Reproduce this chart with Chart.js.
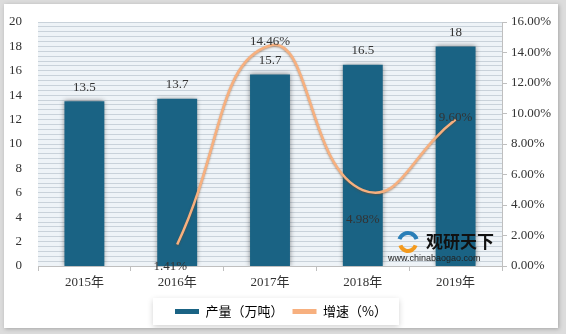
<!DOCTYPE html>
<html>
<head>
<meta charset="utf-8">
<script src="https://cdn.jsdelivr.net/npm/chart.js@4/dist/chart.umd.min.js"></script>
<style>
  body { margin: 0; background: #dcdcdc; width: 566px; height: 334px; overflow: hidden; }
  #wrap { position: absolute; left: 4px; top: 4px; width: 554px; height: 324px; background: #fff; box-shadow: 1px 1px 4px rgba(0,0,0,0.25); }
</style>
</head>
<body>
<div id="wrap"><canvas id="myChart" width="554" height="324"></canvas></div>
<script>
// datos
var anios = ['2015年', '2016年', '2017年', '2018年', '2019年'];
var produccion = [13.5, 13.7, 15.7, 16.5, 18];
var crecimiento = [null, 1.41, 14.46, 4.98, 9.60];
var ticksIzq = [0, 2, 4, 6, 8, 10, 12, 14, 16, 18, 20];
var ticksDer = [0, 2, 4, 6, 8, 10, 12, 14, 16];

var serif = "'Liberation Serif', 'Noto Sans CJK SC', serif";
var cjk = "'Noto Sans CJK SC', sans-serif";

// fondo rayado + caja de la leyenda
var fondo = {
  id: 'fondo',
  beforeDraw: function (chart) {
    var c = chart.ctx, a = chart.chartArea;
    c.save();
    c.fillStyle = '#eef3f7';
    c.fillRect(a.left, a.top, a.right - a.left, a.bottom - a.top);
    var lg = chart.legend;
    if (lg && lg.legendHitBoxes && lg.legendHitBoxes.length) {
      var hb = lg.legendHitBoxes;
      var x0 = hb[0].left - 22, x1 = hb[hb.length - 1].left + hb[hb.length - 1].width + 12;
      var y0 = hb[0].top - 7, y1 = hb[0].top + hb[0].height + 7;
      c.shadowColor = 'rgba(0,0,0,0.18)';
      c.shadowBlur = 6;
      c.shadowOffsetY = 2;
      c.fillStyle = '#fff';
      c.fillRect(x0, y0, x1 - x0, y1 - y0);
    }
    c.restore();
  }
};

// sombras
var sombra = {
  id: 'sombra',
  beforeDatasetDraw: function (chart, args) {
    var c = chart.ctx;
    c.save();
    if (args.index === 0) {
      c.shadowColor = 'rgba(0,0,0,0.45)';
      c.shadowBlur = 5;
    } else {
      c.shadowColor = 'rgba(120,70,30,0.5)';
      c.shadowBlur = 2;
      c.shadowOffsetY = 1;
    }
  },
  afterDatasetDraw: function (chart) {
    chart.ctx.restore();
  }
};

// etiquetas de datos y marca de agua
var desplaz = [null, [-7, 22], [0, -4], [0, 30], [0, -2]];
var etiquetas = {
  id: 'etiquetas',
  afterDatasetsDraw: function (chart) {
    var c = chart.ctx;
    c.save();
    // marca de agua
    var a = chart.chartArea;
    var lx = a.right - 106, ly = a.bottom - 36;
    c.lineWidth = 4;
    c.strokeStyle = '#2a7fb8';
    c.beginPath(); c.arc(lx + 12, ly + 12, 9, Math.PI * 1.1, Math.PI * 1.9); c.stroke();
    c.strokeStyle = '#f39a1e';
    c.beginPath(); c.arc(lx + 12, ly + 13, 8, Math.PI * 0.1, Math.PI * 0.9); c.stroke();
    c.fillStyle = '#111';
    c.font = "bold 17px " + cjk;
    c.textAlign = 'left';
    c.textBaseline = 'middle';
    c.fillText('观研天下', lx + 30, ly + 12);
    c.font = "9px 'Liberation Sans', sans-serif";
    c.fillStyle = '#222';
    c.fillText('www.chinabaogao.com', lx - 8, ly + 29);

    c.font = "13px " + serif;
    c.fillStyle = '#333';
    c.textAlign = 'center';
    var barras = chart.getDatasetMeta(0).data;
    barras.forEach(function (b, i) {
      c.fillText(String(produccion[i]), b.x, b.y - 14);
    });
    var puntos = chart.getDatasetMeta(1).data;
    puntos.forEach(function (p, i) {
      if (crecimiento[i] == null) return;
      c.fillText(crecimiento[i].toFixed(2) + '%', p.x + desplaz[i][0], p.y + desplaz[i][1]);
    });
    c.restore();
  }
};

var ctx = document.getElementById('myChart').getContext('2d');
var myChart = new Chart(ctx, {
  data: {
    labels: anios,
    datasets: [
      {
        type: 'bar',
        label: '产量（万吨）',
        data: produccion,
        yAxisID: 'y',
        backgroundColor: '#1a6384',
        barPercentage: 0.43,
        categoryPercentage: 1,
        order: 2
      },
      {
        type: 'line',
        label: '增速（%）',
        data: crecimiento,
        yAxisID: 'y1',
        borderColor: '#f7b07f',
        backgroundColor: '#f7b07f',
        borderWidth: 2.5,
        tension: 0.5,
        pointRadius: 0,
        spanGaps: false,
        order: 1
      }
    ]
  },
  options: {
    responsive: false,
    animation: false,
    layout: { padding: { top: 18, left: 0, right: 0, bottom: 0 } },
    plugins: {
      tooltip: { enabled: false },
      legend: {
        position: 'bottom',
        labels: {
          boxWidth: 24,
          boxHeight: 5,
          padding: 9,
          color: '#333',
          font: { family: cjk, size: 13 },
          generateLabels: function (chart) {
            return chart.data.datasets.map(function (ds, i) {
              return {
                text: ds.label,
                fillStyle: ds.type === 'line' ? ds.borderColor : ds.backgroundColor,
                strokeStyle: ds.backgroundColor,
                lineWidth: 0,
                datasetIndex: i
              };
            });
          }
        }
      }
    },
    scales: {
      x: {
        offset: true,
        grid: { display: true, offset: true, drawOnChartArea: false, tickLength: 5, color: '#bfbfbf' },
        border: { display: true, color: '#bfbfbf' },
        ticks: { color: '#333', font: { family: serif, size: 13 }, padding: 4 },
        afterFit: function (s) { s.height = 30; }
      },
      y: {
        position: 'left',
        min: 0, max: 20,
        afterBuildTicks: function (s) { s.ticks = ticksIzq.map(function (v) { return { value: v }; }); },
        grid: { display: false },
        border: { display: false },
        ticks: { color: '#333', font: { family: serif, size: 13 }, padding: 8 },
        afterFit: function (s) { s.width = 34; }
      },
      rayas: {
        position: 'left',
        min: 0, max: 50,
        ticks: { display: false, stepSize: 1 },
        grid: { color: '#c9d2da', lineWidth: 1, drawTicks: false },
        border: { display: false },
        afterFit: function (s) { s.width = 0; }
      },
      y1: {
        position: 'right',
        min: 0, max: 16,
        afterBuildTicks: function (s) { s.ticks = ticksDer.map(function (v) { return { value: v }; }); },
        grid: { drawOnChartArea: false, tickLength: 5, color: '#bfbfbf' },
        border: { display: true, color: '#bfbfbf' },
        ticks: {
          color: '#333',
          font: { family: serif, size: 13 },
          padding: 4,
          callback: function (v) { return v.toFixed(2) + '%'; }
        },
        afterFit: function (s) { s.width = 56; }
      }
    }
  },
  plugins: [fondo, sombra, etiquetas]
});
</script>
</body>
</html>
